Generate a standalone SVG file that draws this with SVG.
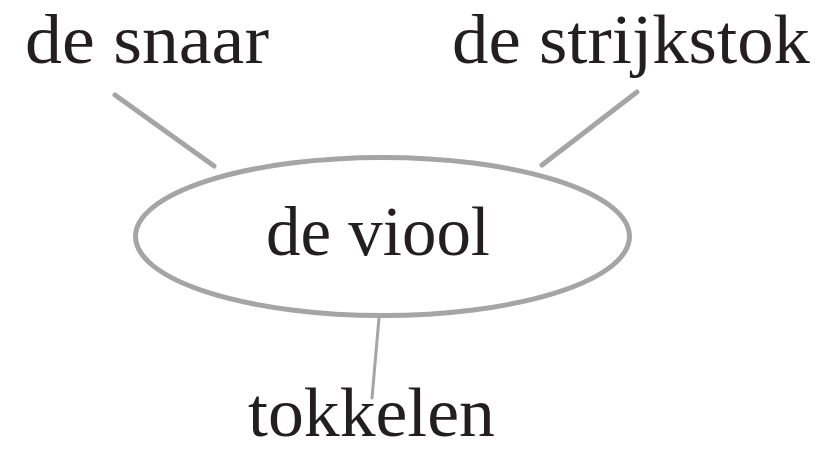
<svg xmlns="http://www.w3.org/2000/svg" width="833" height="451" viewBox="0 0 833 451">
<style>
text{font-family:"Liberation Serif","DejaVu Serif",serif;font-size:70px;fill:#231f20}
.c{stroke:#a5a5a5;fill:none;stroke-linecap:round}
</style>
<rect width="833" height="451" fill="#fff"/>
<g id="connectors">
<path class="c" d="M115 95 L214 166" stroke-width="5"/>
<path class="c" d="M637 92 L542 165" stroke-width="5"/>
<path class="c" d="M379 318 L372 398" stroke-width="3"/>
</g>
<g id="node-viool">
<ellipse class="c" cx="382.5" cy="236.5" rx="247" ry="79" stroke-width="5"/>
<text x="266" y="255" textLength="224" lengthAdjust="spacingAndGlyphs">de viool</text>
</g>
<g id="node-snaar"><text x="25" y="63" textLength="244" lengthAdjust="spacingAndGlyphs">de snaar</text></g>
<g id="node-strijkstok"><text x="452" y="63" textLength="358" lengthAdjust="spacingAndGlyphs">de strijkstok</text></g>
<g id="node-tokkelen"><text x="248" y="436" textLength="247" lengthAdjust="spacingAndGlyphs">tokkelen</text></g>
</svg>
